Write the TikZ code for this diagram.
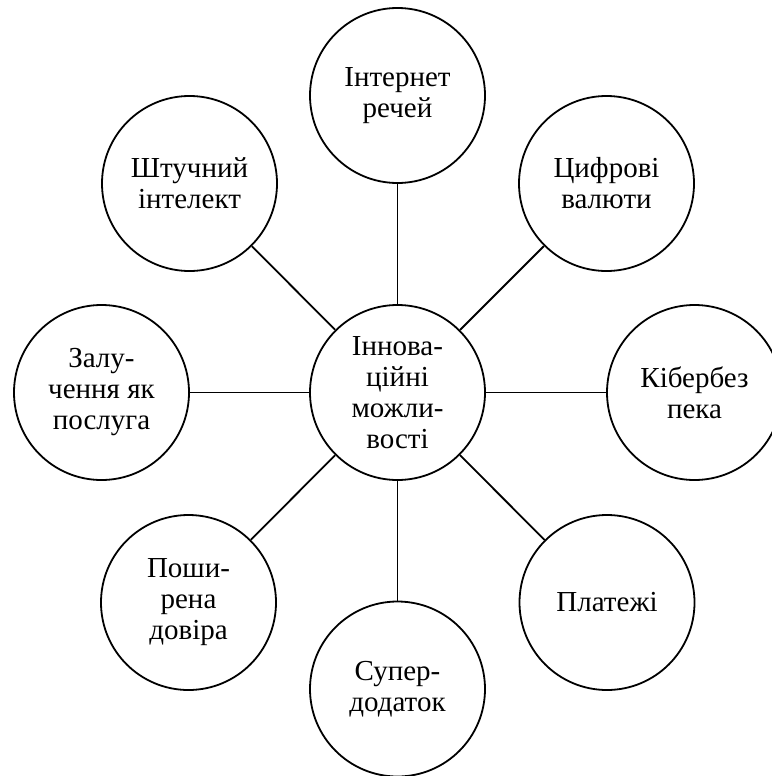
\documentclass[tikz,border=0pt]{standalone}
\usepackage{fontspec}
\setmainfont{Liberation Serif}
\begin{document}
\begin{tikzpicture}[x=1pt,y=-1pt,
  bub/.style={circle,draw=black,line width=1.8pt,minimum size=175pt,inner sep=0pt,
    align=center,font=\fontsize{29}{31}\selectfont,fill=white},
  link/.style={line width=1.8pt,draw=black}]
\useasboundingbox (0,0) rectangle (771,776);
\node[bub] (c) at (397.5,392.5) {Іннова-\\ційні\\можли-\\вості};
\node[bub] (n) at (397.5,95.5) {Інтернет\\речей};
\node[bub] (ne) at (606.5,183.5) {Цифрові\\валюти};
\node[bub] (e) at (694.5,392.5) {Кібербез\\пека};
\node[bub] (se) at (607,602.5) {Платежі};
\node[bub] (s) at (397.5,689) {Супер-\\додаток};
\node[bub] (sw) at (188.5,602.5) {Поши-\\рена\\довіра};
\node[bub] (w) at (101.5,392.5) {Залу-\\чення як\\послуга};
\node[bub] (nw) at (189.5,183.5) {Штучний\\інтелект};
\foreach \t in {n,ne,e,se,s,sw,w,nw} \draw[link] (c) -- (\t);
\end{tikzpicture}
\end{document}
